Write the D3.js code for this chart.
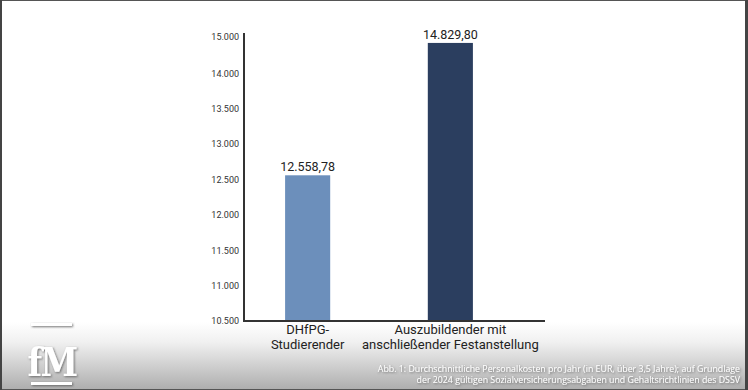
<!DOCTYPE html>
<html><head><meta charset="utf-8">
<script src="https://cdn.jsdelivr.net/npm/d3@7"></script>
<style>html,body{margin:0;padding:0;background:#fff;}svg{display:block;}</style>
</head><body>
<svg id="c" width="748" height="390"></svg>
<script>
const categories = [["DHfPG-", "Studierender"], ["Auszubildender mit", "anschließender Festanstellung"]];
const values = [12558.78, 14829.80];
const valueLabels = ["12.558,78", "14.829,80"];
const tickValues = [10500, 11000, 11500, 12000, 12500, 13000, 13500, 14000, 15000];
const tickLabels = ["10.500", "11.000", "11.500", "12.000", "12.500", "13.000", "13.500", "14.000", "15.000"];
const colors = ["#6c8fbb", "#2b3e5f"];
const caption = ["Abb. 1: Durchschnittliche Personalkosten pro Jahr (in EUR, über 3,5 Jahre); auf Grundlage",
                 "der 2024 gültigen Sozialversicherungsabgaben und Gehaltsrichtlinien des DSSV"];

const svg = d3.select("#c");
const defs = svg.append("defs");
const g = defs.append("linearGradient").attr("id","bg").attr("x1",0).attr("y1",0).attr("x2",0).attr("y2",1);
g.append("stop").attr("offset","0%").attr("stop-color","#ffffff");
g.append("stop").attr("offset","30%").attr("stop-color","#f0f0f0");
g.append("stop").attr("offset","100%").attr("stop-color","#adadad");
const sh = defs.append("filter").attr("id","sh").attr("x","-20%").attr("y","-20%").attr("width","140%").attr("height","140%");
sh.append("feDropShadow").attr("dx",1).attr("dy",1).attr("stdDeviation",0.8).attr("flood-color","#555").attr("flood-opacity",0.8);

svg.append("rect").attr("x",0).attr("y",0).attr("width",748).attr("height",390).attr("fill","#fff");
svg.append("rect").attr("x",0).attr("y",322).attr("width",748).attr("height",68).attr("fill","url(#bg)");

// scales
const y = d3.scaleLinear().domain([10500, 14000, 15000]).range([321, 73.3, 36.7]);
const x = d3.scaleBand().domain(d3.range(values.length)).range([244, 514]).paddingInner(0.684).paddingOuter(0.288);

// bars
svg.selectAll("rect.bar").data(values).join("rect").attr("class","bar")
  .attr("x",(d,i)=>x(i)).attr("width",x.bandwidth())
  .attr("y",d=>y(d)).attr("height",d=>y(10500)-y(d))
  .attr("fill",(d,i)=>colors[i]);

svg.selectAll("text.vl").data(values).join("text").attr("class","vl")
  .attr("x",(d,i)=>x(i)+x.bandwidth()/2).attr("y",d=>y(d)-4)
  .attr("text-anchor","middle").attr("font-family","Roboto, sans-serif").attr("font-size",12.5)
  .attr("fill","#222").text((d,i)=>valueLabels[i]);

// y axis
const yAxis = d3.axisLeft(y).tickValues(tickValues).tickSize(0).tickPadding(5)
  .tickFormat((d,i)=>tickLabels[i]);
const ya = svg.append("g").attr("transform","translate(244,0)").call(yAxis);
ya.select(".domain").remove();
ya.selectAll("text").attr("font-family","Roboto, sans-serif").attr("font-size",9).attr("fill","#333");
svg.append("line").attr("x1",244).attr("x2",244).attr("y1",33).attr("y2",322).attr("stroke","#333").attr("stroke-width",2);

// x axis
svg.append("line").attr("x1",243).attr("x2",545).attr("y1",321).attr("y2",321).attr("stroke","#333").attr("stroke-width",2);
const cl = svg.selectAll("text.cat").data(categories).join("text").attr("class","cat")
  .attr("x",(d,i)=>x(i)+x.bandwidth()/2).attr("y",334)
  .attr("text-anchor","middle").attr("font-family","Roboto, sans-serif").attr("font-size",13).attr("fill","#222");
cl.selectAll("tspan").data(d=>d).join("tspan")
  .attr("x",function(){return this.parentNode.getAttribute("x");})
  .attr("dy",(d,i)=>i===0?0:15).text(d=>d);

// caption
svg.selectAll("text.cap").data(caption).join("text").attr("class","cap")
  .attr("x",740).attr("y",(d,i)=>372+i*11).attr("text-anchor","end")
  .attr("font-family","'Open Sans', sans-serif").attr("font-size",8.8).attr("fill","#fff")
  .attr("filter","url(#sh)").text(d=>d);

// logo
const logo = svg.append("g").attr("filter","url(#sh)");
logo.append("rect").attr("x",31).attr("y",323).attr("width",41).attr("height",3).attr("fill","#fff");
logo.append("rect").attr("x",31).attr("y",382).attr("width",41).attr("height",3).attr("fill","#fff");
logo.append("text").attr("transform","translate(52,376) scale(0.85,1)").attr("text-anchor","middle")
  .attr("font-family","'DejaVu Serif', serif").attr("font-weight","bold").attr("font-size",40)
  .attr("letter-spacing",-2).attr("fill","#fff").text("fM");

// frame
svg.append("rect").attr("x",0.5).attr("y",0.5).attr("width",745).attr("height",389).attr("fill","none").attr("stroke","#555").attr("stroke-width",1);
svg.append("line").attr("x1",1).attr("x2",1).attr("y1",0).attr("y2",390).attr("stroke","#444").attr("stroke-width",2);
svg.append("line").attr("x1",746.5).attr("x2",746.5).attr("y1",0).attr("y2",390).attr("stroke","#444").attr("stroke-width",3);
</script>
</body></html>
